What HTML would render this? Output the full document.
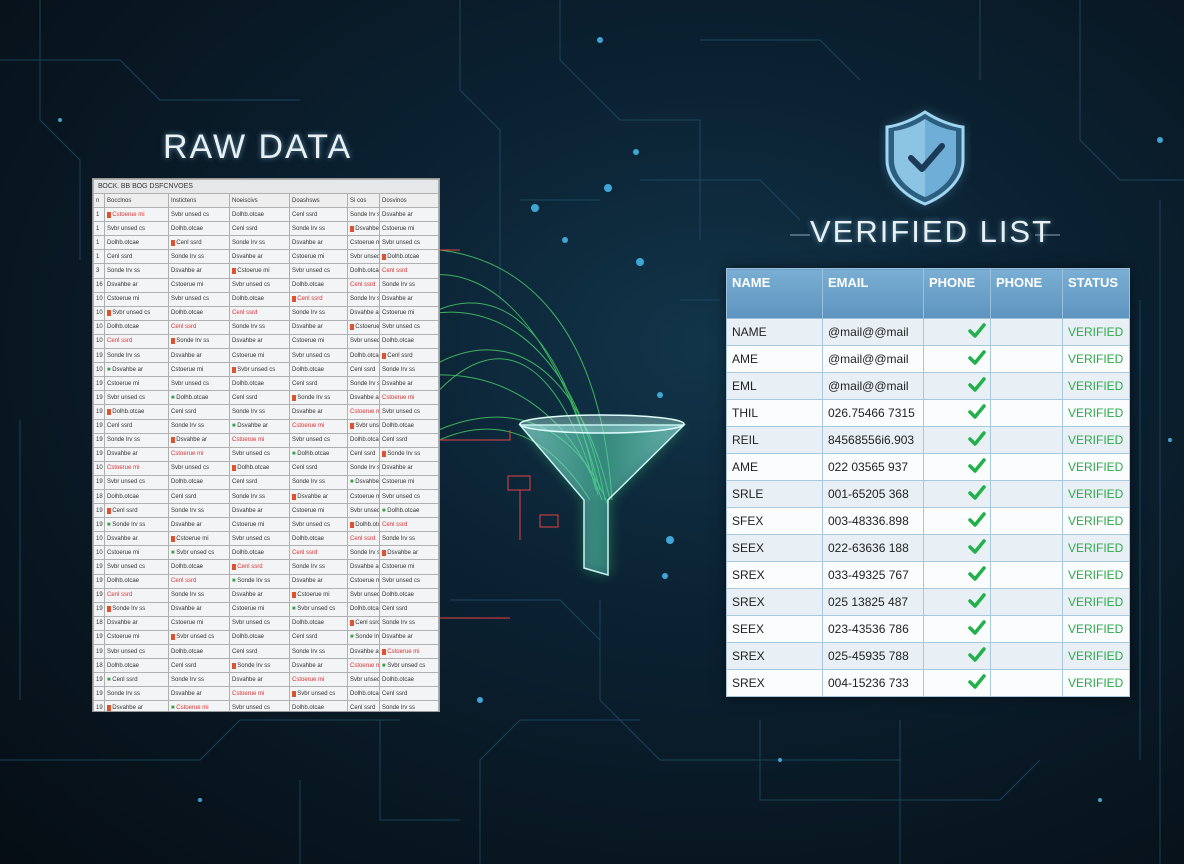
<!DOCTYPE html>
<html><head><meta charset="utf-8"><style>
html,body{margin:0;padding:0}
body{width:1184px;height:864px;overflow:hidden;position:relative;font-family:"Liberation Sans",sans-serif;
background:radial-gradient(ellipse at 60% 40%,#12354a 0%,#0b2233 35%,#08151f 75%,#060d14 100%);}
#bg{position:absolute;left:0;top:0}
.title{position:absolute;color:#e8f0f4;letter-spacing:2px;text-shadow:0 0 6px rgba(140,200,230,.6);}
#raw{position:absolute;left:92px;top:178px;width:348px;height:534px;background:#f3f4f5;border:1px solid #999;box-sizing:border-box;overflow:hidden}
#raw table{border-collapse:collapse;width:100%;font-size:6px;color:#333;table-layout:fixed}
#raw td{border:1px solid #b0b0b0;height:13.1px;padding:0 2px;white-space:nowrap;overflow:hidden}
#ver{position:absolute;left:726px;top:268px;width:404px;height:429px;border-collapse:collapse;table-layout:fixed;font-size:12px;box-shadow:0 0 12px rgba(0,0,0,.5)}
#ver th{background:linear-gradient(#7aaed3,#5d94bf);color:#fff;text-align:left;vertical-align:top;padding:6px 5px;height:37px;border:1px solid #9cc0dc;font-size:13px}
#ver td{border:1px solid #a8c8de;padding:0 5px;height:26px;color:#222;white-space:nowrap;overflow:hidden}
#ver tr:nth-child(odd) td{background:#e8f0f6}
#ver tr:nth-child(even) td{background:#fafcfd}
#ver td.c{text-align:right;padding-right:4px}
#ver td.v{color:#2ea84a;text-align:right;padding-right:8px}
</style></head><body>
<svg id="bg" width="1184" height="864">
<g stroke="#1d4f68" stroke-width="1" fill="none" opacity=".8">
<path d="M0 60 H120 L160 100 H300"/><path d="M40 0 V120 L80 160 V260"/><path d="M460 0 V90 L500 130 V300"/>
<path d="M560 0 V60 L620 120 H700 V240"/><path d="M700 40 H820 L860 80"/><path d="M1080 0 V140 L1120 180 H1184"/>
<path d="M0 760 H200 L240 720 H400"/><path d="M480 864 V760 L520 720 H640"/><path d="M600 600 V700 L660 760 H900"/>
<path d="M760 720 V800 H1000 L1040 760"/><path d="M1140 300 V760"/><path d="M1160 200 V864"/><path d="M20 420 V700"/>
<path d="M680 300 H720"/><path d="M450 600 H560 L600 640"/><path d="M300 780 V864"/><path d="M380 720 V820 H460"/>
<path d="M900 720 V864"/><path d="M980 0 V80"/><path d="M640 180 H760 L800 220"/><path d="M520 200 H600"/>
</g>
<g fill="#3fa7d6">
<circle cx="600" cy="40" r="3"/><circle cx="636" cy="152" r="3"/><circle cx="608" cy="188" r="4"/><circle cx="535" cy="208" r="4"/><circle cx="640" cy="262" r="4"/><circle cx="565" cy="240" r="3"/><circle cx="660" cy="395" r="3"/><circle cx="670" cy="540" r="4"/><circle cx="665" cy="576" r="3"/><circle cx="1160" cy="140" r="3"/><circle cx="60" cy="120" r="2"/><circle cx="480" cy="700" r="3"/><circle cx="780" cy="760" r="2"/><circle cx="1100" cy="800" r="2"/><circle cx="200" cy="800" r="2"/><circle cx="1170" cy="440" r="2"/>
</g>
<g stroke="#4ddf6a" stroke-width="1" fill="none" opacity=".75">
<path d="M300 380 C420 200 540 260 600 490"/><path d="M250 470 C380 250 560 260 605 500"/><path d="M420 320 C480 280 560 300 598 495"/>
<path d="M350 450 C450 300 570 320 610 500"/><path d="M200 520 C350 330 540 330 602 500"/><path d="M430 400 C500 320 560 360 596 490"/>
<path d="M300 560 C420 380 560 380 608 505"/><path d="M440 250 C520 260 600 320 612 500"/><path d="M380 480 C470 400 540 420 590 500"/>
<path d="M100 560 L300 470 L440 340"/><path d="M440 600 L360 600"/>
</g>
<g stroke="#e04444" stroke-width="1" fill="none">
<path d="M420 250 H460"/><path d="M440 440 H510 V430"/><rect x="508" y="476" width="22" height="14"/><rect x="540" y="515" width="18" height="12"/><path d="M520 490 V540"/><path d="M440 618 H510"/>
</g>
<defs><linearGradient id="fg" x1="0" x2="1"><stop offset="0" stop-color="#9fe8e8" stop-opacity=".6"/><stop offset=".5" stop-color="#5fc0c8" stop-opacity=".35"/><stop offset="1" stop-color="#9fe8e8" stop-opacity=".6"/></linearGradient>
<filter id="gl"><feGaussianBlur stdDeviation="6"/></filter></defs>
<path d="M520 425 L584 500 V570 L610 575 V500 L684 425 Z" fill="#3ee07a" opacity=".35" filter="url(#gl)"/>
<path d="M520 425 L584 500 V568 L608 575 V500 L684 425 Z" fill="url(#fg)" stroke="#c8f4f4" stroke-width="1.5"/>
<ellipse cx="602" cy="424" rx="82" ry="9" fill="#bdf0f0" fill-opacity=".35" stroke="#e0ffff" stroke-width="1.5"/>
<path d="M925 112 C910 122 895 126 887 127 V160 C887 180 905 196 925 204 C945 196 963 180 963 160 V127 C955 126 940 122 925 112 Z" fill="#6fb6e0" opacity=".4" filter="url(#gl)"/>
<path d="M925 112 C910 122 895 126 887 127 V160 C887 180 905 196 925 204 C945 196 963 180 963 160 V127 C955 126 940 122 925 112 Z" fill="#2c5e80" stroke="#9fd6f0" stroke-width="3"/>
<path d="M925 119 C913 127 902 130 894 131 V160 C894 176 908 190 925 197 C942 190 956 176 956 160 V131 C948 130 937 127 925 119 Z" fill="#8cc4e4"/>
<path d="M925 119 V197 C942 190 956 176 956 160 V131 C948 130 937 127 925 119 Z" fill="#6faed6"/>
<path d="M911 158 L922 169 L942 146" stroke="#1b3a55" stroke-width="6" fill="none" stroke-linecap="round" stroke-linejoin="round"/>
<path d="M790 235 H810 M1035 235 H1060" stroke="#8aa8b8"/>
</svg>
<div class="title" style="left:163px;top:128px;font-size:34px;">RAW DATA</div>
<div class="title" style="left:810px;top:214px;font-size:31px;">VERIFIED LIST</div>
<div id="raw"><table id="rt">
<colgroup><col style="width:11px"><col style="width:64px"><col style="width:61px"><col style="width:60px"><col style="width:58px"><col style="width:32px"><col></colgroup>
</table></div>
<table id="ver">
<colgroup><col style="width:96px"><col style="width:101px"><col style="width:67px"><col style="width:72px"><col></colgroup>
<tr><th>NAME</th><th>EMAIL</th><th>PHONE</th><th>PHONE</th><th>STATUS</th></tr>
</table>
<script>
var rt=document.getElementById('rt');
var h='<tr><td colspan="7" style="background:#e6e7e8;height:13px;font-size:7px">&nbsp;ВОСК. ВВ ВОG DSFCNVOES</td></tr><tr style="background:#eee"><td>n</td><td>Bocclnos</td><td>Instictens</td><td>Noeiscivs</td><td>Doashsws</td><td>Si cos</td><td>Dosvinos</td></tr>';
var nums=['1','1','1','1','3','16','10','10','10','10','19','10','19','19','19','19','19','19','10','19','18','19','19','10','10','19','19','19','19','18','19','19','18','19','19','19','18','19'];
var w=['Cstoerue mi','Svbr unsed cs','Dolhb.otcae','Cenl ssrd','Sonde lrv ss','Dsvahbe ar'];
var s='';
for(var i=0;i<36;i++){var r='<tr><td>'+nums[i]+'</td>';for(var j=0;j<6;j++){var t=w[(i+j)%6];var c=((i*3+j)%7==0)?'<span style="background:#e0522c;color:#e0522c">■</span> ':((i*5+j)%11==0?'<span style="color:#3aa14a">■</span> ':'');var red=((i+j)%9==0)?' style="color:#d33"':'';r+='<td'+red+'>'+c+t+'</td>';}s+=r+'</tr>';}
rt.innerHTML+=h+s;
var v=document.getElementById('ver');
var d=[['NAME','@mail@@mail'],['AME','@mail@@mail'],['EML','@mail@@mail'],['THIL','026.75466 7315'],['REIL','84568556i6.903'],['AME','022 03565 937'],['SRLE','001-65205 368'],['SFEX','003-48336.898'],['SEEX','022-63636 188'],['SREX','033-49325 767'],['SREX','025 13825 487'],['SEEX','023-43536 786'],['SREX','025-45935 788'],['SREX','004-15236 733']];
var chk='<svg width="18" height="16" viewBox="0 0 18 16"><path d="M2 8 L7 13 L16 2" stroke="#22b04a" stroke-width="3.5" fill="none" stroke-linecap="round" stroke-linejoin="round"/></svg>';
var vs='';
d.forEach(function(x){vs+='<tr><td>'+x[0]+'</td><td>'+x[1]+'</td><td class="c">'+chk+'</td><td></td><td class="v">VERIFIED</td></tr>';});
v.innerHTML+=vs;
</script>
</body></html>
